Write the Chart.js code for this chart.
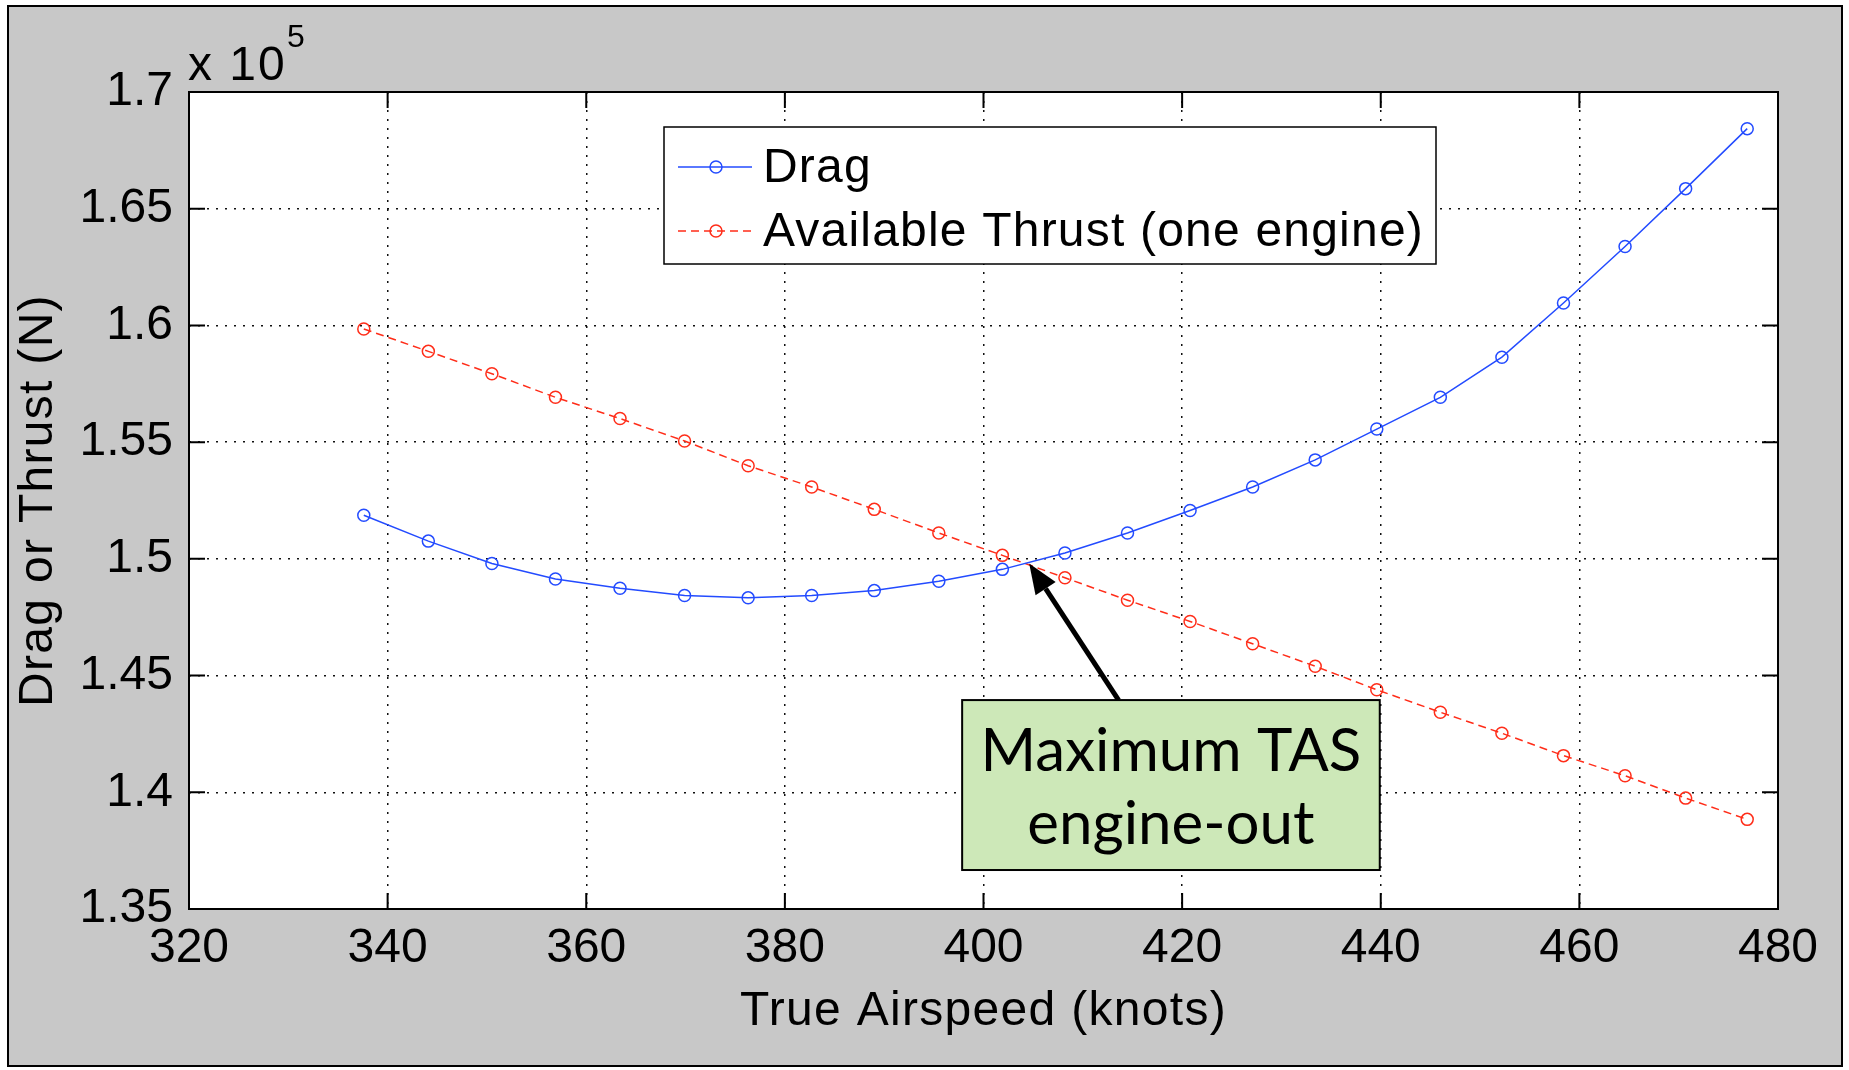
<!DOCTYPE html>
<html>
<head>
<meta charset="utf-8">
<script src="https://cdn.jsdelivr.net/npm/chart.js@4.4.1/dist/chart.umd.min.js"></script>
<style>
  body { margin: 0; background: #fff; }
  #frame {
    position: absolute; left: 7px; top: 5px; width: 1836px; height: 1062px;
    box-sizing: border-box; border: 2px solid #000; background: #c8c8c8;
  }
  #drag-chart { position: absolute; left: 0; top: 0; }
</style>
</head>
<body>
<div id="frame"></div>
<canvas id="drag-chart" width="1849" height="1070"></canvas>
<script>
// true airspeed in knots, one value per computed point
const airspeedKnots = [337.6, 344.1, 350.5, 356.9, 363.4, 369.9, 376.3, 382.7, 389.0, 395.5, 401.9, 408.2,
  414.5, 420.8, 427.1, 433.4, 439.6, 446.0, 452.2, 458.4, 464.6, 470.7, 476.9];
// total drag (N)
const dragN = [151870, 150760, 149800, 149140, 148740, 148430, 148330, 148430, 148640, 149040, 149550, 150250,
  151110, 152070, 153080, 154240, 155560, 156920, 158640, 160960, 163380, 165860, 168430];
// thrust available with one engine (N)
const thrustN = [159850, 158890, 157930, 156920, 156010, 155050, 153990, 153080, 152120, 151110, 150150, 149190,
  148230, 147320, 146360, 145400, 144390, 143430, 142530, 141570, 140710, 139750, 138840];

const xTickLabels = ['320', '340', '360', '380', '400', '420', '440', '460', '480'];
const yTickLabels = ['1.35', '1.4', '1.45', '1.5', '1.55', '1.6', '1.65', '1.7'];
const xTitle = 'True Airspeed (knots)';
const yTitle = 'Drag or Thrust (N)';

const BLUE = 'rgb(35,75,255)';
const RED = 'rgb(255,45,25)';
const TICK = 16;
const FONT = '"Liberation Sans"';

// callout pointing at the drag / thrust crossing
const note = {
  lines: ['Maximum TAS', 'engine-out'],
  tip: { x: 404.6, y: 149800 },
  tail: { x: 413.6, y: 143950 },
  box: { x0: 397.85, x1: 439.9, y0: 143950, y1: 136670 }
};

const toPoints = (xs, ys) => xs.map((x, i) => ({ x: x, y: ys[i] }));

const plotDecor = {
  id: 'plotDecor',
  beforeDraw(chart) {
    const { ctx, chartArea: a } = chart;
    ctx.save();
    ctx.fillStyle = '#fff';
    ctx.fillRect(a.left, a.top, a.right - a.left, a.bottom - a.top);
    ctx.restore();
  },
  afterDraw(chart) {
    const { ctx, chartArea: a, scales: { x, y } } = chart;
    ctx.save();

    // axes box and inward ticks on all four sides
    ctx.strokeStyle = '#000';
    ctx.lineWidth = 2;
    ctx.strokeRect(a.left, a.top, a.right - a.left, a.bottom - a.top);
    ctx.beginPath();
    x.ticks.forEach(t => {
      const px = x.getPixelForValue(t.value);
      ctx.moveTo(px, a.bottom); ctx.lineTo(px, a.bottom - TICK);
      ctx.moveTo(px, a.top); ctx.lineTo(px, a.top + TICK);
    });
    y.ticks.forEach(t => {
      const py = y.getPixelForValue(t.value);
      ctx.moveTo(a.left, py); ctx.lineTo(a.left + TICK, py);
      ctx.moveTo(a.right, py); ctx.lineTo(a.right - TICK, py);
    });
    ctx.stroke();

    // axis titles (slightly tracked, like the tick font)
    ctx.fillStyle = '#000';
    ctx.letterSpacing = '1.3px';
    ctx.font = '48px ' + FONT;
    ctx.textAlign = 'center';
    ctx.textBaseline = 'middle';
    ctx.fillText(xTitle, (a.left + a.right) / 2, 1012);
    ctx.save();
    ctx.translate(39, (a.top + a.bottom) / 2);
    ctx.rotate(-Math.PI / 2);
    ctx.fillText(yTitle, 0, 0);
    ctx.restore();

    // exponent above the y axis
    ctx.textBaseline = 'alphabetic';
    ctx.textAlign = 'left';
    ctx.letterSpacing = '2px';
    ctx.font = '48px ' + FONT;
    ctx.fillText('x 10', a.left - 1, 80);
    ctx.letterSpacing = '0px';
    ctx.font = '32px ' + FONT;
    ctx.fillText('5', a.left + 98, 47);

    // legend
    const lx = a.left + 475, ly = a.top + 35, lw = 772, lh = 137;
    ctx.fillStyle = '#fff';
    ctx.fillRect(lx, ly, lw, lh);
    ctx.lineWidth = 1.5;
    ctx.strokeStyle = '#000';
    ctx.strokeRect(lx, ly, lw, lh);
    chart.data.datasets.forEach((ds, i) => {
      const cy = ly + 40 + i * 64;
      ctx.strokeStyle = ds.borderColor;
      ctx.lineWidth = ds.borderWidth;
      ctx.setLineDash(ds.borderDash || []);
      ctx.beginPath();
      ctx.moveTo(lx + 14, cy); ctx.lineTo(lx + 88, cy);
      ctx.stroke();
      ctx.setLineDash([]);
      ctx.beginPath();
      ctx.arc(lx + 52, cy, ds.pointRadius, 0, Math.PI * 2);
      ctx.stroke();
      ctx.fillStyle = '#000';
      ctx.font = '48px ' + FONT;
      ctx.letterSpacing = '1.2px';
      ctx.textBaseline = 'middle';
      ctx.fillText(ds.label, lx + 99, cy + 2);
    });
    ctx.letterSpacing = '0px';

    // callout arrow
    const tx = x.getPixelForValue(note.tip.x), ty = y.getPixelForValue(note.tip.y);
    const sx = x.getPixelForValue(note.tail.x), sy = y.getPixelForValue(note.tail.y);
    const ang = Math.atan2(ty - sy, tx - sx);
    const headLen = 30, headW = 12;
    const bx = tx - headLen * Math.cos(ang), by = ty - headLen * Math.sin(ang);
    ctx.strokeStyle = '#000';
    ctx.lineWidth = 5;
    ctx.beginPath();
    ctx.moveTo(sx, sy); ctx.lineTo(bx, by);
    ctx.stroke();
    ctx.fillStyle = '#000';
    ctx.beginPath();
    ctx.moveTo(tx, ty);
    ctx.lineTo(bx + headW * Math.sin(ang), by - headW * Math.cos(ang));
    ctx.lineTo(bx - headW * Math.sin(ang), by + headW * Math.cos(ang));
    ctx.closePath();
    ctx.fill();

    // callout box
    const x0 = x.getPixelForValue(note.box.x0), x1 = x.getPixelForValue(note.box.x1);
    const y0 = y.getPixelForValue(note.box.y0), y1 = y.getPixelForValue(note.box.y1);
    ctx.fillStyle = '#cde8b8';
    ctx.fillRect(x0, y0, x1 - x0, y1 - y0);
    ctx.lineWidth = 2;
    ctx.strokeRect(x0, y0, x1 - x0, y1 - y0);
    ctx.fillStyle = '#000';
    ctx.font = '60px Lato';
    ctx.textAlign = 'center';
    ctx.textBaseline = 'middle';
    note.lines.forEach((s, i) => ctx.fillText(s, (x0 + x1) / 2, y0 + 52 + i * 73));

    ctx.restore();
  }
};

new Chart(document.getElementById('drag-chart'), {
  type: 'line',
  data: {
    datasets: [
      {
        label: 'Drag',
        data: toPoints(airspeedKnots, dragN),
        borderColor: BLUE,
        borderWidth: 1.5,
        pointRadius: 6,
        pointBorderWidth: 1.5,
        pointBorderColor: BLUE,
        pointBackgroundColor: 'rgba(0,0,0,0)',
        tension: 0
      },
      {
        label: 'Available Thrust (one engine)',
        data: toPoints(airspeedKnots, thrustN),
        borderColor: RED,
        borderWidth: 1.5,
        borderDash: [8, 5],
        pointRadius: 6,
        pointBorderWidth: 1.5,
        pointBorderColor: RED,
        pointBackgroundColor: 'rgba(0,0,0,0)',
        tension: 0
      }
    ]
  },
  options: {
    responsive: false,
    animation: false,
    events: [],
    layout: { padding: { left: 0, top: 92, right: 71, bottom: 0 } },
    plugins: { legend: { display: false }, tooltip: { enabled: false } },
    scales: {
      x: {
        type: 'linear',
        min: 320, max: 480,
        afterFit: s => { s.height = 161; },
        ticks: {
          stepSize: 20,
          padding: 11,
          color: '#000',
          font: { family: 'Liberation Sans', size: 48 },
          callback: (v, i) => xTickLabels[i]
        },
        grid: { color: '#111', lineWidth: 1.5, drawTicks: false },
        border: { display: false, dash: [2, 7] }
      },
      y: {
        min: 135000, max: 170000,
        afterFit: s => { s.width = 189; },
        ticks: {
          stepSize: 5000,
          padding: 16,
          color: '#000',
          font: { family: 'Liberation Sans', size: 48 },
          callback: (v, i) => yTickLabels[i]
        },
        grid: { color: '#111', lineWidth: 1.5, drawTicks: false },
        border: { display: false, dash: [2, 7] }
      }
    }
  },
  plugins: [plotDecor]
});
</script>
</body>
</html>
